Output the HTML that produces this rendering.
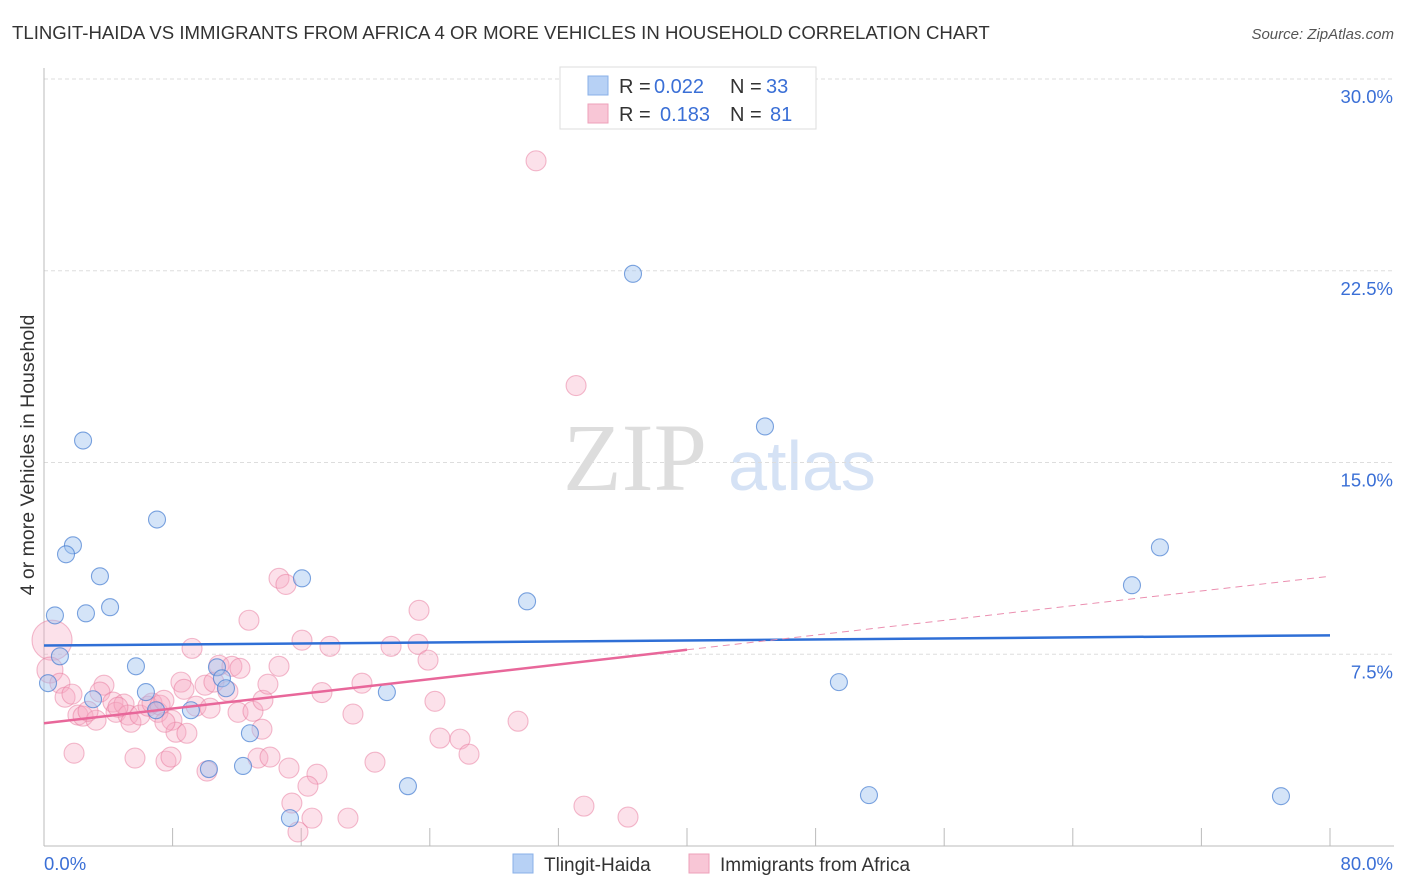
<!DOCTYPE html>
<html><head><meta charset="utf-8"><style>
body{margin:0;background:#fff;font-family:"Liberation Sans",sans-serif}
svg{display:block}
</style></head><body>
<svg id="c" width="1406" height="892" xmlns="http://www.w3.org/2000/svg">
<text x="12" y="39" font-size="18.6" fill="#333">TLINGIT-HAIDA VS IMMIGRANTS FROM AFRICA 4 OR MORE VEHICLES IN HOUSEHOLD CORRELATION CHART</text>
<text x="1394" y="39" font-size="15" fill="#555" font-style="italic" text-anchor="end">Source: ZipAtlas.com</text>
<text x="635" y="490" font-size="96" fill="#ddd" font-family="Liberation Serif,serif" text-anchor="middle">ZIP</text>
<text x="802" y="490" font-size="70" fill="#d5e2f5" text-anchor="middle">atlas</text>
<text transform="translate(34,455) rotate(-90)" font-size="19.5" fill="#333" text-anchor="middle">4 or more Vehicles in Household</text>
<g id="grid"></g><g id="pts"></g><g id="lines"></g>
<g font-size="20" fill="#333">
<rect x="560" y="67" width="256" height="62" fill="#fff" stroke="#ddd"/>
<rect x="588" y="76" width="20" height="19" fill="#b7d1f5" stroke="#8ab0e8"/>
<rect x="588" y="104" width="20" height="19" fill="#f8c6d6" stroke="#eea0ba"/>
<text x="619" y="93">R =</text><text x="654" y="93" fill="#3a6fd6">0.022</text>
<text x="730" y="93">N =</text><text x="766" y="93" fill="#3a6fd6">33</text>
<text x="619" y="121">R =</text><text x="660" y="121" fill="#3a6fd6">0.183</text>
<text x="730" y="121">N =</text><text x="770" y="121" fill="#3a6fd6">81</text>
</g>
<g>
<rect x="513" y="854" width="20" height="19" fill="#b7d1f5" stroke="#8ab0e8"/>
<text x="544" y="871" font-size="19" fill="#333">Tlingit-Haida</text>
<rect x="689" y="854" width="20" height="19" fill="#f8c6d6" stroke="#eea0ba"/>
<text x="720" y="871" font-size="19" fill="#333">Immigrants from Africa</text>
</g>
</svg>
<script>
const yTicks=[7.5,15,22.5,30];
const yTickLabels=["7.5%","15.0%","22.5%","30.0%"];
const xTickLabels=["0.0%","80.0%"];
const blueX=[2.43,7.03,1.8,1.37,3.48,2.61,4.11,0.68,16.05,30.05,36.64,44.85,69.42,67.68,49.45,51.32,76.95,22.64,21.33,12.81,12.38,10.26,15.3,5.72,6.34,9.14,10.76,11.07,11.32,0.99,0.25,3.05,6.97];
const blueY=[15.86,12.77,11.76,11.41,10.55,9.1,9.34,9.02,10.47,9.57,22.38,16.41,11.68,10.2,6.41,1.99,1.95,2.34,6.02,4.41,3.13,3.01,1.09,7.03,6.02,5.31,6.99,6.56,6.17,7.42,6.37,5.74,5.31];
const pinkX=[30.61,33.1,0.5,0.37,0.99,1.31,1.74,2.11,2.43,3.24,3.73,3.48,4.29,4.48,4.98,5.23,5.41,5.97,6.47,6.72,7.09,7.22,7.46,7.96,8.21,8.52,8.71,9.21,9.46,10.02,10.33,10.57,10.89,11.44,11.69,12.19,12.07,12.75,13,13.62,13.93,14.62,14.62,15.05,16.05,17.79,17.29,19.22,19.78,21.59,23.27,23.33,23.89,24.32,24.63,25.88,26.44,29.49,20.59,13.56,13.31,14.06,15.24,16.98,16.42,15.42,15.8,16.67,18.91,33.59,36.33,1.87,5.66,7.59,7.9,10.14,7.52,8.89,4.6,2.74];
const pinkY=[26.8,18.01,8.05,6.88,6.37,5.82,5.94,5.12,5.08,4.92,6.29,6.02,5.63,5.23,5.55,5.12,4.84,5.12,5.47,5.59,5.23,5.51,5.7,4.92,4.45,6.41,6.13,7.73,5.47,6.29,5.39,6.41,7.07,6.05,7.03,6.95,5.23,8.83,5.27,5.7,6.33,7.03,10.47,10.23,8.05,7.81,6.0,5.16,6.37,7.81,7.89,9.22,7.27,5.66,4.22,4.18,3.59,4.88,3.28,4.57,3.44,3.48,3.05,2.81,2.34,1.68,0.55,1.09,1.09,1.56,1.13,3.63,3.44,3.32,3.48,2.93,4.84,4.41,5.43,5.27];
const blueTrend=[7.84,8.24];
const pinkTrend=[4.80,10.55];
const pinkSolidEnd=40;
const NS="http://www.w3.org/2000/svg";
const X=v=>44+v/80*1286, Y=v=>846-v/30*767;
function mk(tag,attrs,parent){const e=document.createElementNS(NS,tag);for(const k in attrs)e.setAttribute(k,attrs[k]);parent.appendChild(e);return e;}
const grid=document.getElementById('grid'),pts=document.getElementById('pts'),lines=document.getElementById('lines');
yTicks.forEach((t,i)=>{
 const l=mk('line',{x1:44,x2:1394,y1:Y(t),y2:Y(t),stroke:'#ddd','stroke-dasharray':'4,3'},grid);
 
 
 const tx=mk('text',{x:1393,y:Y(t)+24,'font-size':18.5,fill:'#3a6fd6','text-anchor':'end'},grid);
 tx.textContent=yTickLabels[i];
 
 
});
const ya=mk('line',{x1:44,x2:44,y1:68,y2:846,stroke:'#bbb'},grid);


const xa=mk('line',{x1:44,x2:1394,y1:846,y2:846,stroke:'#bbb'},grid);


for(let i=1;i<=10;i++){const t=mk('line',{x1:X(i*8),x2:X(i*8),y1:828,y2:846,stroke:'#bbb'},grid);
 
 }
[[0,44,'start'],[80,1393,'end']].forEach((a,i)=>{const t=mk('text',{x:a[1],y:870,'font-size':18.5,fill:'#3a6fd6','text-anchor':a[2]},grid);t.textContent=xTickLabels[i];
 
 });
pinkX.forEach((x,i)=>{const big=(i===2)?20:(i===3?13:10);const c=mk('circle',{cx:X(x),cy:Y(pinkY[i]),r:big,fill:'rgba(246,170,195,0.35)',stroke:'rgba(232,120,155,0.5)','stroke-width':1.1},pts);
 
 });
blueX.forEach((x,i)=>{const c=mk('circle',{cx:X(x),cy:Y(blueY[i]),r:8.5,fill:'rgba(160,195,240,0.45)',stroke:'rgba(70,125,210,0.7)','stroke-width':1.1},pts);
 
 });
const bl=mk('line',{x1:X(0),x2:X(80),y1:Y(blueTrend[0]),y2:Y(blueTrend[1]),stroke:'#2f6fd6','stroke-width':2.5},lines);


const py=x=>pinkTrend[0]+(pinkTrend[1]-pinkTrend[0])*x/80;
const pl=mk('line',{x1:X(0),x2:X(pinkSolidEnd),y1:Y(py(0)),y2:Y(py(pinkSolidEnd)),stroke:'#e8679a','stroke-width':2.5},lines);


const pd=mk('line',{x1:X(pinkSolidEnd),x2:X(80),y1:Y(py(pinkSolidEnd)),y2:Y(py(80)),stroke:'#eb8fb0','stroke-width':1,'stroke-dasharray':'7,5'},lines);


</script>
</body></html>
